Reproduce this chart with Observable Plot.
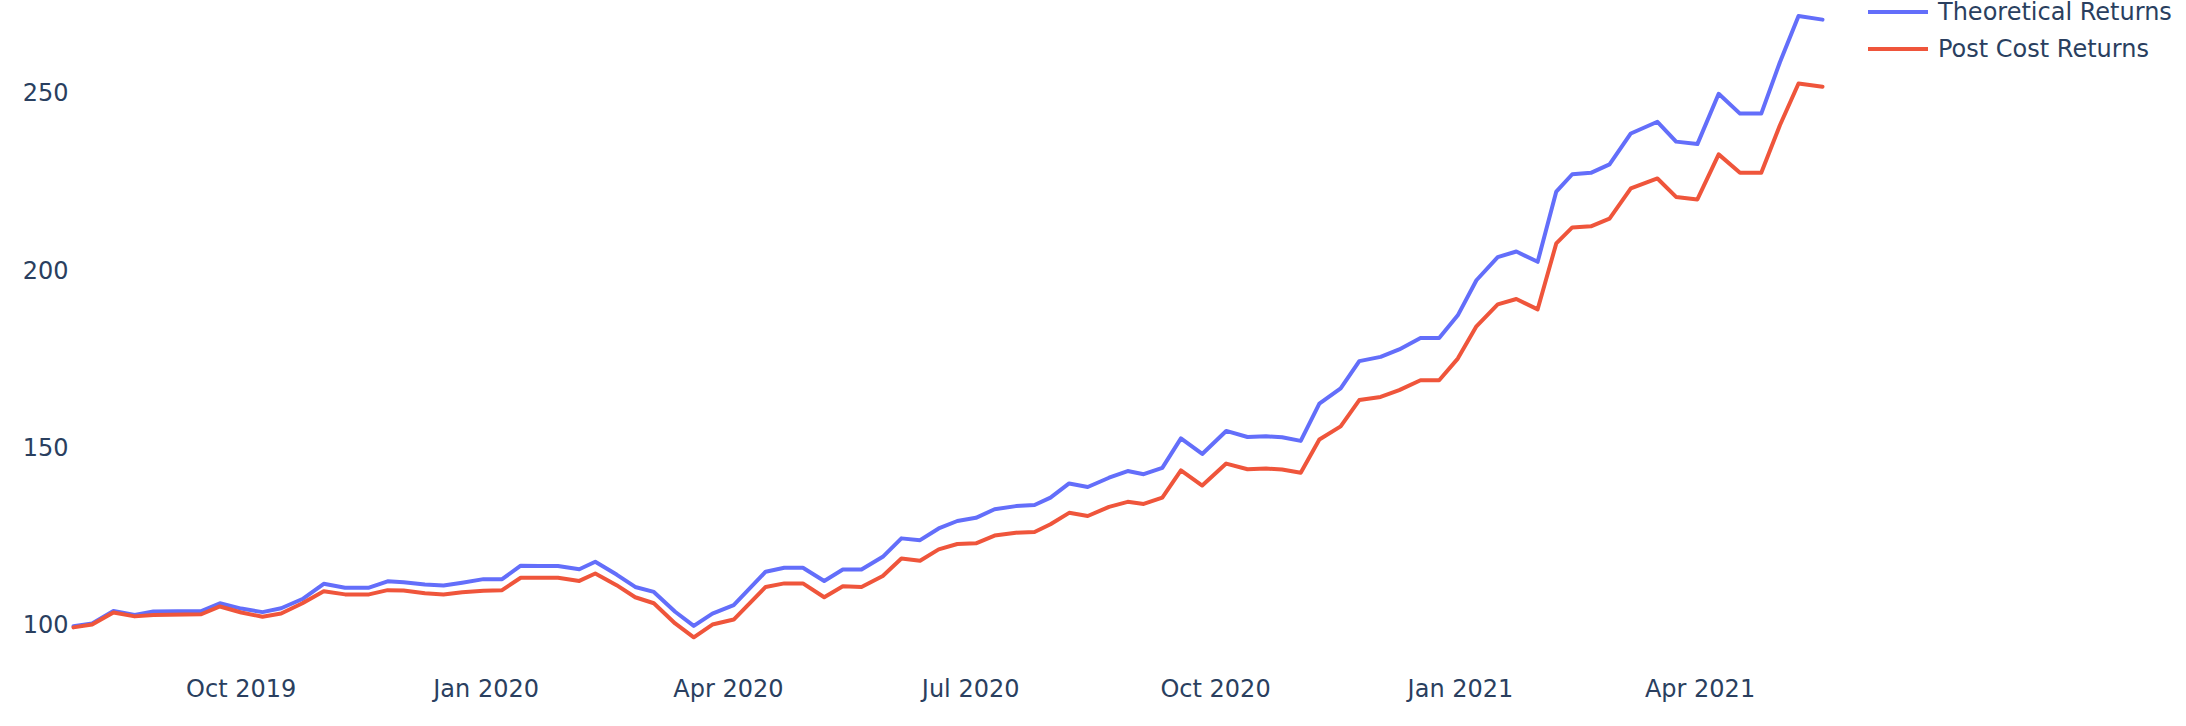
<!DOCTYPE html>
<html>
<head>
<meta charset="utf-8">
<script src="https://cdn.jsdelivr.net/npm/d3@7"></script>
<script src="https://cdn.jsdelivr.net/npm/@observablehq/plot@0.6"></script>
<style>
  html, body { margin: 0; padding: 0; background: #fff; overflow: hidden; }
  #wrap { position: relative; width: 2186px; height: 726px; }
  #legend { position: absolute; left: 1868px; top: 0; font-family: "DejaVu Sans", sans-serif; font-size: 24px; color: #2a3f5f; }
  .item { position: absolute; left: 0; height: 28px; line-height: 28px; display: flex; align-items: center; white-space: nowrap; }
  .swatch { width: 60px; height: 4px; margin-right: 10px; }
</style>
</head>
<body>
<div id="wrap"><div id="chart"></div><div id="legend"></div></div>
<script>
// ---- data ----
const seriesNames = ["Theoretical Returns", "Post Cost Returns"];
const seriesColors = ["#636efa", "#EF553B"];

const dates = [
  "2019-07-30","2019-08-06","2019-08-14","2019-08-22","2019-08-29","2019-09-16","2019-09-23",
  "2019-10-01","2019-10-09","2019-10-16","2019-10-24","2019-11-01","2019-11-09",
  "2019-11-18","2019-11-25","2019-12-01","2019-12-09","2019-12-16","2019-12-23","2019-12-31",
  "2020-01-07","2020-01-14","2020-01-21","2020-01-28","2020-02-05","2020-02-11","2020-02-19","2020-02-26",
  "2020-03-04","2020-03-12","2020-03-19","2020-03-26","2020-04-03","2020-04-15","2020-04-22","2020-04-29",
  "2020-05-07","2020-05-14","2020-05-21","2020-05-29","2020-06-05","2020-06-12","2020-06-19",
  "2020-06-26","2020-07-03","2020-07-10","2020-07-18","2020-07-25","2020-07-31","2020-08-07","2020-08-14",
  "2020-08-22","2020-08-29","2020-09-04","2020-09-11","2020-09-18","2020-09-26","2020-10-05","2020-10-13",
  "2020-10-20","2020-10-26","2020-11-02","2020-11-09","2020-11-17","2020-11-24","2020-12-02","2020-12-09",
  "2020-12-17","2020-12-24","2020-12-31","2021-01-07","2021-01-15","2021-01-22","2021-01-30",
  "2021-02-06","2021-02-12","2021-02-19","2021-02-26","2021-03-06","2021-03-16","2021-03-23","2021-03-31",
  "2021-04-08","2021-04-16","2021-04-24","2021-05-01","2021-05-08","2021-05-17"
];

const theoretical = [
  99.8, 100.6, 104.1, 103.0, 104.0, 104.1, 106.3, 104.8, 103.8, 104.9, 107.5, 111.8, 110.7,
  110.7, 112.5, 112.2, 111.6, 111.3, 112.1, 113.1, 113.1, 116.9, 116.8, 116.8, 115.9, 118.0, 114.4, 110.9,
  109.5, 103.9, 99.9, 103.4, 105.8, 115.2, 116.3, 116.3, 112.6, 115.8, 115.8, 119.4, 124.6, 124.1, 127.4,
  129.5, 130.4, 132.8, 133.7, 134.0, 136.1, 140.1, 139.1, 141.7, 143.6, 142.7, 144.5, 152.8, 148.4, 154.9, 153.2,
  153.4, 153.1, 152.1, 162.6, 166.9, 174.6, 175.8, 177.9, 181.1, 181.1, 187.5, 197.4, 203.9, 205.5, 202.6,
  222.4, 227.3, 227.7, 230.1, 238.8, 242.1, 236.5, 235.8, 250.0, 244.4, 244.4, 258.9, 271.9, 270.9
];

const postCost = [
  99.5, 100.3, 103.7, 102.6, 103.0, 103.2, 105.4, 103.7, 102.5, 103.4, 106.3, 109.7, 108.8,
  108.8, 110.0, 109.9, 109.1, 108.8, 109.4, 109.8, 110.0, 113.5, 113.5, 113.5, 112.6, 114.7, 111.4, 108.0,
  106.3, 100.6, 96.7, 100.3, 101.7, 110.9, 111.9, 111.9, 108.0, 111.1, 110.9, 114.0, 118.9, 118.3, 121.5,
  123.0, 123.2, 125.4, 126.2, 126.4, 128.6, 131.8, 130.9, 133.5, 134.9, 134.3, 136.1, 143.8, 139.5, 145.7, 144.1,
  144.3, 144.0, 143.1, 152.5, 156.2, 163.6, 164.5, 166.4, 169.2, 169.2, 175.3, 184.4, 190.6, 192.1, 189.2,
  207.8, 212.3, 212.6, 214.8, 223.3, 226.1, 220.9, 220.2, 232.9, 227.7, 227.7, 241.1, 252.9, 252.0
];

const xTicks = ["2019-10-01","2020-01-01","2020-04-01","2020-07-01","2020-10-01","2021-01-01","2021-04-01"];
const yTicks = [100, 150, 200, 250];

// ---- build table ----
const parse = d3.utcParse("%Y-%m-%d");
const rows = (vals, name) => dates.map((d, i) => ({date: parse(d), value: vals[i], series: name}));
const theoRows = rows(theoretical, seriesNames[0]);
const postRows = rows(postCost, seriesNames[1]);

const fmt = d3.utcFormat("%b %Y");

const chart = Plot.plot({
  width: 2186,
  height: 726,
  marginTop: 0,
  marginBottom: 58,
  marginLeft: 73,
  marginRight: 364,
  style: {fontFamily: "DejaVu Sans, sans-serif", fontSize: "24px", color: "#2a3f5f", background: "#fff"},
  x: {type: "utc", domain: [parse(dates[0]), parse(dates[dates.length - 1])], label: null},
  y: {domain: [87.9, 276.3], label: null},
  marks: [
    Plot.axisY({ticks: yTicks, tickSize: 0, tickPadding: 5, fontSize: 24, label: null}),
    Plot.axisX({ticks: xTicks.map(parse), tickSize: 0, tickPadding: 11, fontSize: 24, tickFormat: fmt, label: null}),
    Plot.lineY(theoRows, {x: "date", y: "value", stroke: seriesColors[0], strokeWidth: 4}),
    Plot.lineY(postRows, {x: "date", y: "value", stroke: seriesColors[1], strokeWidth: 4})
  ]
});
document.getElementById("chart").appendChild(chart);

// ---- legend ----
const legend = d3.select("#legend");
seriesNames.forEach((name, i) => {
  const item = legend.append("div").attr("class", "item").style("top", (-2 + i * 37) + "px");
  item.append("div").attr("class", "swatch").style("background", seriesColors[i]);
  item.append("span").text(name);
});
</script>
</body>
</html>
